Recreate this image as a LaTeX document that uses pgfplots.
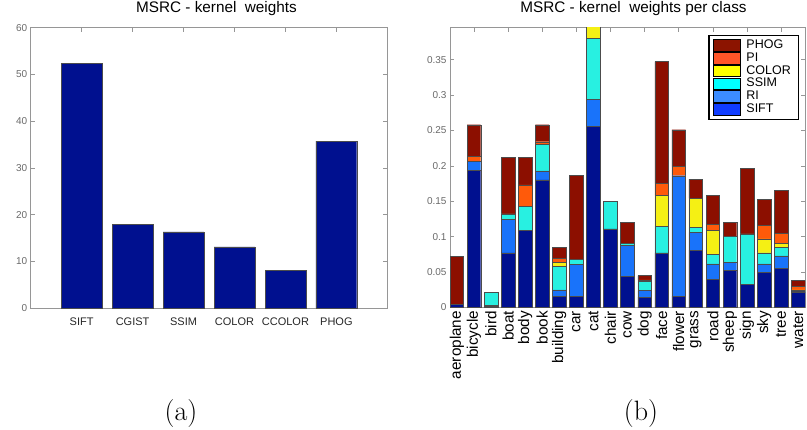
\documentclass[border=0pt]{standalone}
\usepackage{fontspec}
\newfontfamily\arial{Liberation Sans}
\usepackage{pgfplots}
\usepackage{pgfplotstable}
\pgfplotsset{compat=1.18}
\definecolor{framegray}{RGB}{150,150,150}
\definecolor{tickgray}{RGB}{105,105,105}
\definecolor{cSIFT}{RGB}{0,16,143}
\definecolor{cRI}{RGB}{25,115,250}
\definecolor{cSSIM}{RGB}{40,240,225}
\definecolor{cCOLOR}{RGB}{245,240,20}
\definecolor{cPI}{RGB}{255,90,10}
\definecolor{cPHOG}{RGB}{140,15,0}
\definecolor{lSIFT}{RGB}{15,60,255}
\definecolor{lRI}{RGB}{60,140,255}
\definecolor{lSSIM}{RGB}{0,255,255}
\definecolor{lCOLOR}{RGB}{255,255,0}
\definecolor{lPI}{RGB}{255,85,40}
\definecolor{lPHOG}{RGB}{140,20,0}
\pgfplotsset{legbox/.style={legend image code/.code={\draw[##1] (0bp,-5.8bp) rectangle (27bp,5.8bp);}}}

\pgfplotstableread{
x w
1 52.4
2 17.9
3 16.3
4 13.1
5 8.0
6 35.7
}\kerneldata

\pgfplotstableread{
x SIFT RI SSIM COLOR PI PHOG
1 0.004 0 0 0 0 0.068
2 0.194 0.012 0 0 0.007 0.045
3 0.002 0.001 0.018 0 0 0
4 0.077 0.047 0.008 0 0 0.080
5 0.109 0 0.034 0 0.030 0.039
6 0.180 0.013 0.037 0 0.004 0.024
7 0.016 0.009 0.033 0.006 0.005 0.016
8 0.016 0.045 0.007 0 0 0.119
9 0.256 0.038 0.086 0.030 0 0
10 0.111 0 0.039 0 0 0
11 0.044 0.044 0.003 0 0 0.029
12 0.0145 0.0095 0.013 0.001 0.001 0.006
13 0.077 0 0.038 0.043 0.017 0.172
14 0.016 0.170 0 0 0.013 0.052
15 0.081 0.025 0.007 0.041 0 0.027
16 0.0395 0.022 0.0135 0.034 0.008 0.041
17 0.052 0.012 0.036 0 0 0.020
18 0.033 0 0.071 0 0 0.092
19 0.050 0.0116 0.0154 0.020 0.019 0.037
20 0.055 0.018 0.012 0.006 0.014 0.060
21 0.022 0 0.001 0.002 0.005 0.008
}\classdata

\begin{document}
\begin{tikzpicture}[x=1bp,y=1bp]
\path[use as bounding box] (0,0) rectangle (807,429);

\begin{axis}[
  at={(30.7bp,121bp)}, anchor=south west, scale only axis,
  width=356.6bp, height=280.3bp,
  xmin=0, xmax=7, ymin=0, ymax=60,
  ytick={0,10,20,30,40,50,60},
  xtick={1,2,3,4,5,6},
  xticklabels={SIFT,CGIST,SSIM,COLOR,CCOLOR,PHOG},
  axis line style={framegray, line width=0.7bp},
  tick style={framegray, line width=0.6bp},
  major tick length=4bp, tick align=inside,
  /pgf/number format/assume math mode=true,
  yticklabel style={font=\arial\fontsize{10bp}{12bp}\selectfont, text=tickgray},
  xticklabel style={font=\arial\fontsize{11bp}{13bp}\selectfont, text=black!85, anchor=base, yshift=-17.7bp},
  title={MSRC - kernel~~weights},
  title style={font=\arial\fontsize{15.3bp}{17bp}\selectfont, at={(0.521,1)}, anchor=base, yshift=9.4bp},
]
\addplot[ybar, bar width=0.8, fill=cSIFT, draw=black!70, line width=0.4bp] table[x=x,y=w]{\kerneldata};
\end{axis}

\begin{axis}[
  at={(450bp,121.5bp)}, anchor=south west, scale only axis,
  width=355bp, height=279.8bp,
  xmin=0.6, xmax=21.4, ymin=0, ymax=0.395,
  ybar stacked, bar width=0.8,
  ytick={0,0.05,0.1,0.15,0.2,0.25,0.3,0.35},
  scaled y ticks=false,
  yticklabel style={font=\arial\fontsize{10bp}{12bp}\selectfont, text=tickgray,
    /pgf/number format/fixed, /pgf/number format/precision=2},
  xtick={2,4,...,20}, xticklabels={},
  extra x ticks={1,...,21},
  extra x tick labels={aeroplane,bicycle,bird,boat,body,book,building,car,cat,chair,cow,dog,face,flower,grass,road,sheep,sign,sky,tree,water},
  extra x tick style={major tick length=0pt, grid=none,
    xticklabel style={rotate=90, anchor=east, font=\arial\fontsize{15.3bp}{16bp}\selectfont, text=black}},
  axis line style={framegray, line width=0.7bp},
  tick style={framegray, line width=0.6bp},
  major tick length=4bp, tick align=inside,
  /pgf/number format/assume math mode=true,
  title={MSRC - kernel~~weights per class},
  title style={font=\arial\fontsize{15.3bp}{17bp}\selectfont, at={(0.517,1)}, anchor=base, yshift=9.4bp},
  legend style={at={(1,1)}, anchor=north east, xshift=-6bp, yshift=-7bp,
    draw=black, line width=1.2bp, fill=white, inner xsep=4bp, inner ysep=4bp,
    row sep=0.4bp, column sep=5.7bp,
    font=\arial\fontsize{12.5bp}{12bp}\selectfont,
    nodes={inner sep=0pt, text height=8.8bp, text depth=2.9bp}},
  legend cell align=left,
]
\addplot[fill=cSIFT, draw=black!70, line width=0.4bp, forget plot] table[x=x,y=SIFT]{\classdata};
\addplot[fill=cRI, draw=black!70, line width=0.4bp, forget plot] table[x=x,y=RI]{\classdata};
\addplot[fill=cSSIM, draw=black!70, line width=0.4bp, forget plot] table[x=x,y=SSIM]{\classdata};
\addplot[fill=cCOLOR, draw=black!70, line width=0.4bp, forget plot] table[x=x,y=COLOR]{\classdata};
\addplot[fill=cPI, draw=black!70, line width=0.4bp, forget plot] table[x=x,y=PI]{\classdata};
\addplot[fill=cPHOG, draw=black!70, line width=0.4bp, forget plot] table[x=x,y=PHOG]{\classdata};
\addlegendimage{legbox, fill=lPHOG, draw=black, line width=0.8bp}
\addlegendentry{\makebox[48bp][l]{PHOG}}
\addlegendimage{legbox, fill=lPI, draw=black, line width=0.8bp}
\addlegendentry{\makebox[48bp][l]{PI}}
\addlegendimage{legbox, fill=lCOLOR, draw=black, line width=0.8bp}
\addlegendentry{\makebox[48bp][l]{COLOR}}
\addlegendimage{legbox, fill=lSSIM, draw=black, line width=0.8bp}
\addlegendentry{\makebox[48bp][l]{SSIM}}
\addlegendimage{legbox, fill=lRI, draw=black, line width=0.8bp}
\addlegendentry{\makebox[48bp][l]{RI}}
\addlegendimage{legbox, fill=lSIFT, draw=black, line width=0.8bp}
\addlegendentry{\makebox[48bp][l]{SIFT}}
\end{axis}

\node[font=\fontsize{28bp}{30bp}\selectfont, anchor=base] at (181,8.7) {(a)};
\node[font=\fontsize{28bp}{30bp}\selectfont, anchor=base] at (641,8.7) {(b)};
\end{tikzpicture}
\end{document}
